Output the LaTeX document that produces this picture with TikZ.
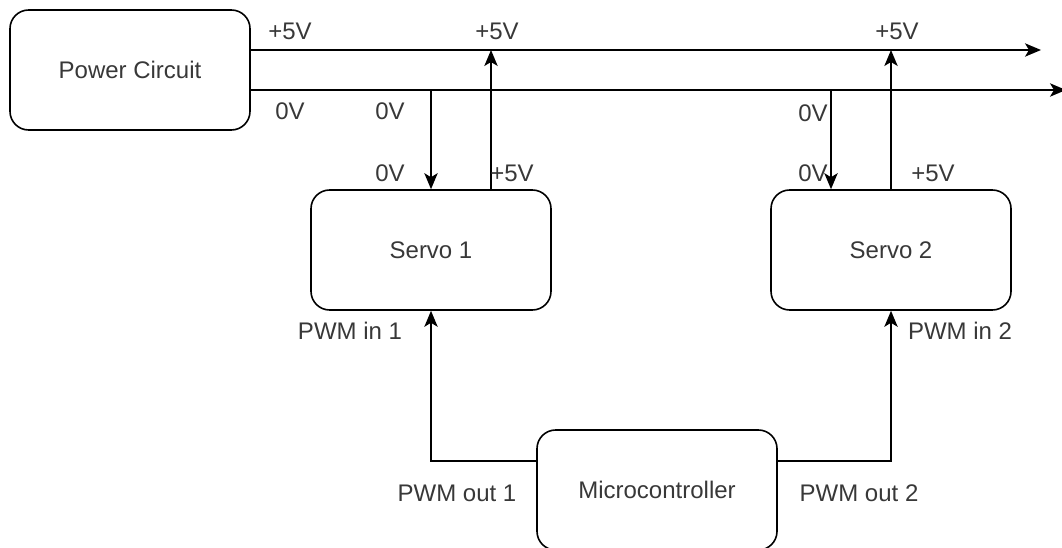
\documentclass[tikz,border=0pt]{standalone}
\usepackage{fontspec}
\setmainfont{Liberation Sans}
\usetikzlibrary{arrows.meta,calc}
\begin{document}
\begin{tikzpicture}[
    x=0.75pt, y=-0.75pt,
    every node/.style={font=\fontsize{18}{22}\selectfont, text=black!78, align=center},
    box/.style={rectangle, draw=black, line width=1.2pt, rounded corners=14pt, minimum width=180pt, minimum height=90pt, inner sep=0pt},
    arr/.style={-{Stealth[length=12pt, width=10pt, inset=3pt]}, line width=1.2pt, black},
    lbl/.style={inner sep=0pt}
]
\useasboundingbox (0,0) rectangle (1062,548);
\node[box] (pc) at (130,70)  {Power Circuit};
\node[box] (s1) at (431,250) {Servo 1};
\node[box] (s2) at (891,250) {Servo 2};
\node[box] (mc) at (657,490) {Microcontroller};

\coordinate (vbus) at (1041,50);
\coordinate (gbus) at (1066,90);
\coordinate (s1v) at ($(s1.north)+(60,0)$);
\coordinate (s2g) at ($(s2.north)+(-60,0)$);
\coordinate (mcl) at ($(mc.west)+(0,-29)$);
\coordinate (mcr) at ($(mc.east)+(0,-29)$);

\draw[arr] (pc.east |- vbus) -- (vbus);
\draw[arr] (pc.east |- gbus) -- (gbus);
\draw[arr] (s1.north |- gbus) -- (s1.north);
\draw[arr] (s1v) -- (s1v |- vbus);
\draw[arr] (s2g |- gbus) -- (s2g);
\draw[arr] (s2.north) -- (s2.north |- vbus);
\draw[arr] (mcl) -| (s1.south);
\draw[arr] (mcr) -| (s2.south);

\node[lbl] (pc5)  at (290,31)  {+5V};
\node[lbl] (pc0)  at (290,111) {0V};
\node[lbl] (b5a)  at (497,31)  {+5V};
\node[lbl] (b0a)  at (390,111) {0V};
\node[lbl] (s10)  at (390,173) {0V};
\node[lbl] (s15)  at (512,173) {+5V};
\node[lbl] (b5b)  at (897,31)  {+5V};
\node[lbl] (b0b)  at (813,113) {0V};
\node[lbl] (s20)  at (813,173) {0V};
\node[lbl] (s25)  at (933,173) {+5V};
\node[lbl] (pin1) at (350,331) {PWM in 1};
\node[lbl] (pin2) at (960,331) {PWM in 2};
\node[lbl] (po1)  at (457,493) {PWM out 1};
\node[lbl] (po2)  at (859,493) {PWM out 2};
\end{tikzpicture}
\end{document}
